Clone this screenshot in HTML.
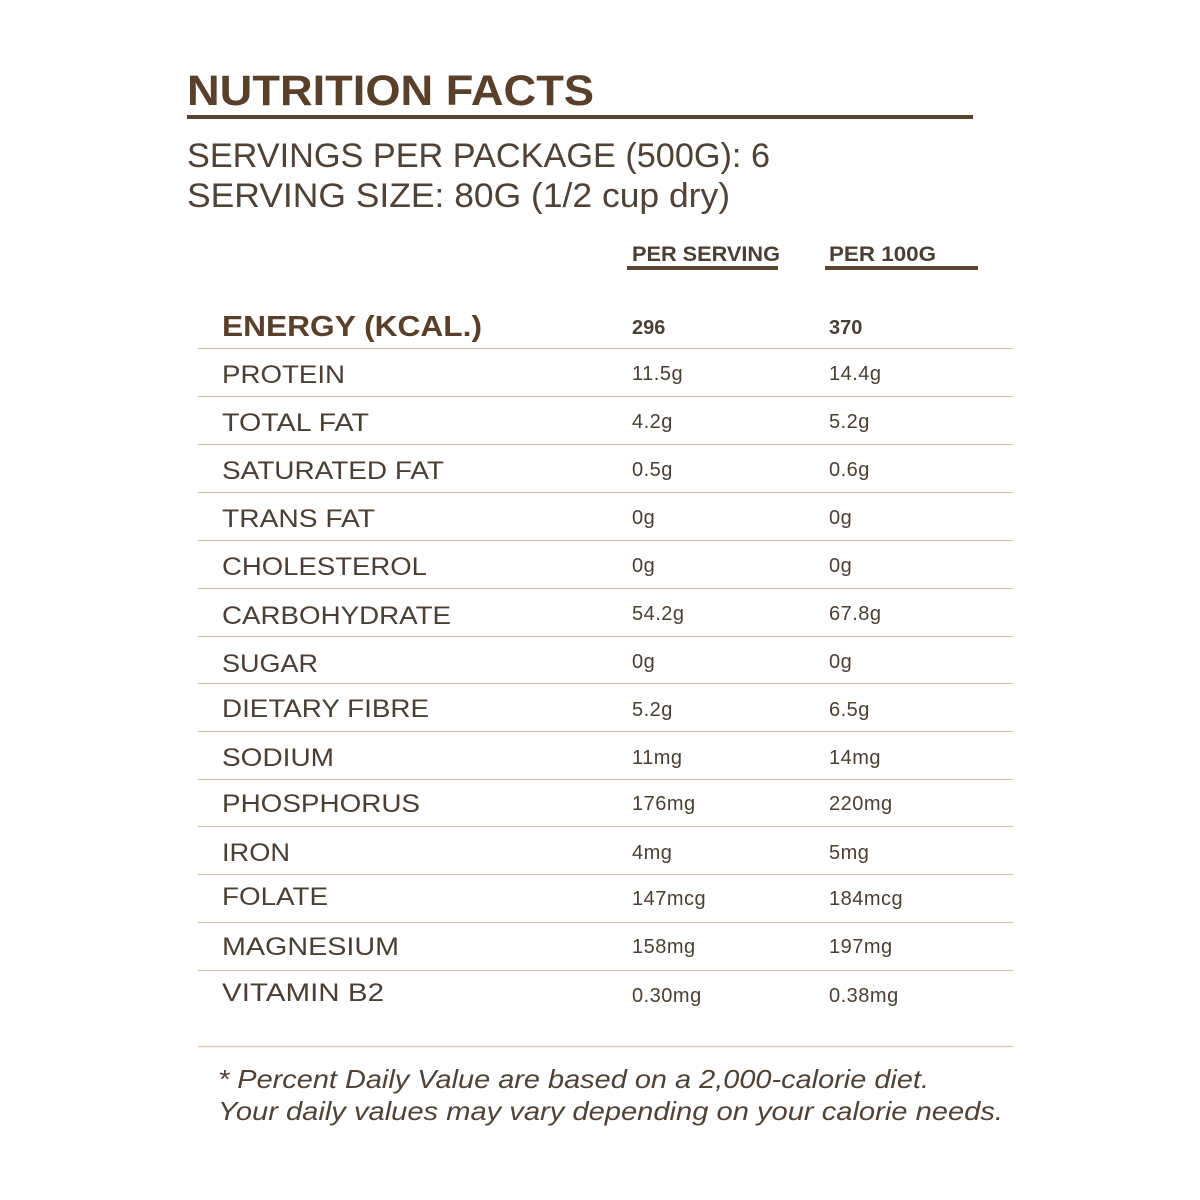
<!DOCTYPE html>
<html><head><meta charset="utf-8"><style>
html,body{margin:0;padding:0;background:#fff;}
svg{display:block;font-family:"Liberation Sans",sans-serif;}
.l{font-size:25px;fill:#4a3f35;}
.v{font-size:20px;fill:#4a3f35;letter-spacing:0.5px;}
.ln{stroke:#cfc6b2;stroke-width:1.2;}
</style></head><body>
<svg width="1200" height="1200" viewBox="0 0 1200 1200">
<text x="187" y="105" font-size="43" font-weight="bold" fill="#58402a" textLength="407" lengthAdjust="spacingAndGlyphs">NUTRITION FACTS</text>
<rect x="187" y="115" width="786" height="4" fill="#5a4530"/>
<text x="187" y="167" font-size="34" fill="#4f4237" textLength="583" lengthAdjust="spacingAndGlyphs">SERVINGS PER PACKAGE (500G): 6</text>
<text x="187" y="207" font-size="34" fill="#4f4237" textLength="543" lengthAdjust="spacingAndGlyphs">SERVING SIZE: 80G (1/2 cup dry)</text>
<text x="632" y="261" font-size="21" font-weight="bold" fill="#4a3f35" textLength="148" lengthAdjust="spacingAndGlyphs">PER SERVING</text>
<text x="829" y="261" font-size="21" font-weight="bold" fill="#4a3f35" textLength="107" lengthAdjust="spacingAndGlyphs">PER 100G</text>
<rect x="627" y="266" width="151" height="4" fill="#5a4530"/>
<rect x="825" y="266" width="153" height="4" fill="#5a4530"/>
<text x="222" y="336" font-size="29" font-weight="bold" fill="#58402a" textLength="260" lengthAdjust="spacingAndGlyphs">ENERGY (KCAL.)</text>
<text x="632" y="334" font-size="20" font-weight="bold" fill="#4a3f35">296</text>
<text x="829" y="334" font-size="20" font-weight="bold" fill="#4a3f35">370</text>
<g class="ln">
<line x1="198" x2="1013" y1="348.5" y2="348.5"/>
<line x1="198" x2="1013" y1="396.5" y2="396.5"/>
<line x1="198" x2="1013" y1="444.5" y2="444.5"/>
<line x1="198" x2="1013" y1="492.5" y2="492.5"/>
<line x1="198" x2="1013" y1="540.5" y2="540.5"/>
<line x1="198" x2="1013" y1="588.5" y2="588.5"/>
<line x1="198" x2="1013" y1="636.5" y2="636.5"/>
<line x1="198" x2="1013" y1="683.5" y2="683.5"/>
<line x1="198" x2="1013" y1="731.5" y2="731.5"/>
<line x1="198" x2="1013" y1="779.5" y2="779.5"/>
<line x1="198" x2="1013" y1="826.5" y2="826.5"/>
<line x1="198" x2="1013" y1="874.5" y2="874.5"/>
<line x1="198" x2="1013" y1="922.5" y2="922.5"/>
<line x1="198" x2="1013" y1="970.5" y2="970.5"/>
<line x1="198" x2="1013" y1="1046.5" y2="1046.5"/>
</g>
<g class="l">
<text x="222" y="383" textLength="123" lengthAdjust="spacingAndGlyphs">PROTEIN</text>
<text x="222" y="431" textLength="147" lengthAdjust="spacingAndGlyphs">TOTAL FAT</text>
<text x="222" y="479" textLength="222" lengthAdjust="spacingAndGlyphs">SATURATED FAT</text>
<text x="222" y="527" textLength="153" lengthAdjust="spacingAndGlyphs">TRANS FAT</text>
<text x="222" y="575" textLength="205" lengthAdjust="spacingAndGlyphs">CHOLESTEROL</text>
<text x="222" y="624" textLength="229" lengthAdjust="spacingAndGlyphs">CARBOHYDRATE</text>
<text x="222" y="672" textLength="96" lengthAdjust="spacingAndGlyphs">SUGAR</text>
<text x="222" y="717" textLength="207" lengthAdjust="spacingAndGlyphs">DIETARY FIBRE</text>
<text x="222" y="766" textLength="112" lengthAdjust="spacingAndGlyphs">SODIUM</text>
<text x="222" y="812" textLength="198" lengthAdjust="spacingAndGlyphs">PHOSPHORUS</text>
<text x="222" y="861" textLength="68" lengthAdjust="spacingAndGlyphs">IRON</text>
<text x="222" y="905" textLength="106" lengthAdjust="spacingAndGlyphs">FOLATE</text>
<text x="222" y="955" textLength="177" lengthAdjust="spacingAndGlyphs">MAGNESIUM</text>
<text x="222" y="1001" textLength="162" lengthAdjust="spacingAndGlyphs">VITAMIN B2</text>
</g>
<g class="v">
<text x="632" y="380">11.5g</text><text x="829" y="380">14.4g</text>
<text x="632" y="428">4.2g</text><text x="829" y="428">5.2g</text>
<text x="632" y="476">0.5g</text><text x="829" y="476">0.6g</text>
<text x="632" y="524">0g</text><text x="829" y="524">0g</text>
<text x="632" y="572">0g</text><text x="829" y="572">0g</text>
<text x="632" y="620">54.2g</text><text x="829" y="620">67.8g</text>
<text x="632" y="668">0g</text><text x="829" y="668">0g</text>
<text x="632" y="716">5.2g</text><text x="829" y="716">6.5g</text>
<text x="632" y="764">11mg</text><text x="829" y="764">14mg</text>
<text x="632" y="810">176mg</text><text x="829" y="810">220mg</text>
<text x="632" y="859">4mg</text><text x="829" y="859">5mg</text>
<text x="632" y="905">147mcg</text><text x="829" y="905">184mcg</text>
<text x="632" y="953">158mg</text><text x="829" y="953">197mg</text>
<text x="632" y="1002">0.30mg</text><text x="829" y="1002">0.38mg</text>
</g>
<text x="218" y="1088" font-size="26" font-style="italic" fill="#4f4237" textLength="711" lengthAdjust="spacingAndGlyphs">* Percent Daily Value are based on a 2,000-calorie diet.</text>
<text x="218" y="1120" font-size="26" font-style="italic" fill="#4f4237" textLength="785" lengthAdjust="spacingAndGlyphs">Your daily values may vary depending on your calorie needs.</text>
</svg>
</body></html>
